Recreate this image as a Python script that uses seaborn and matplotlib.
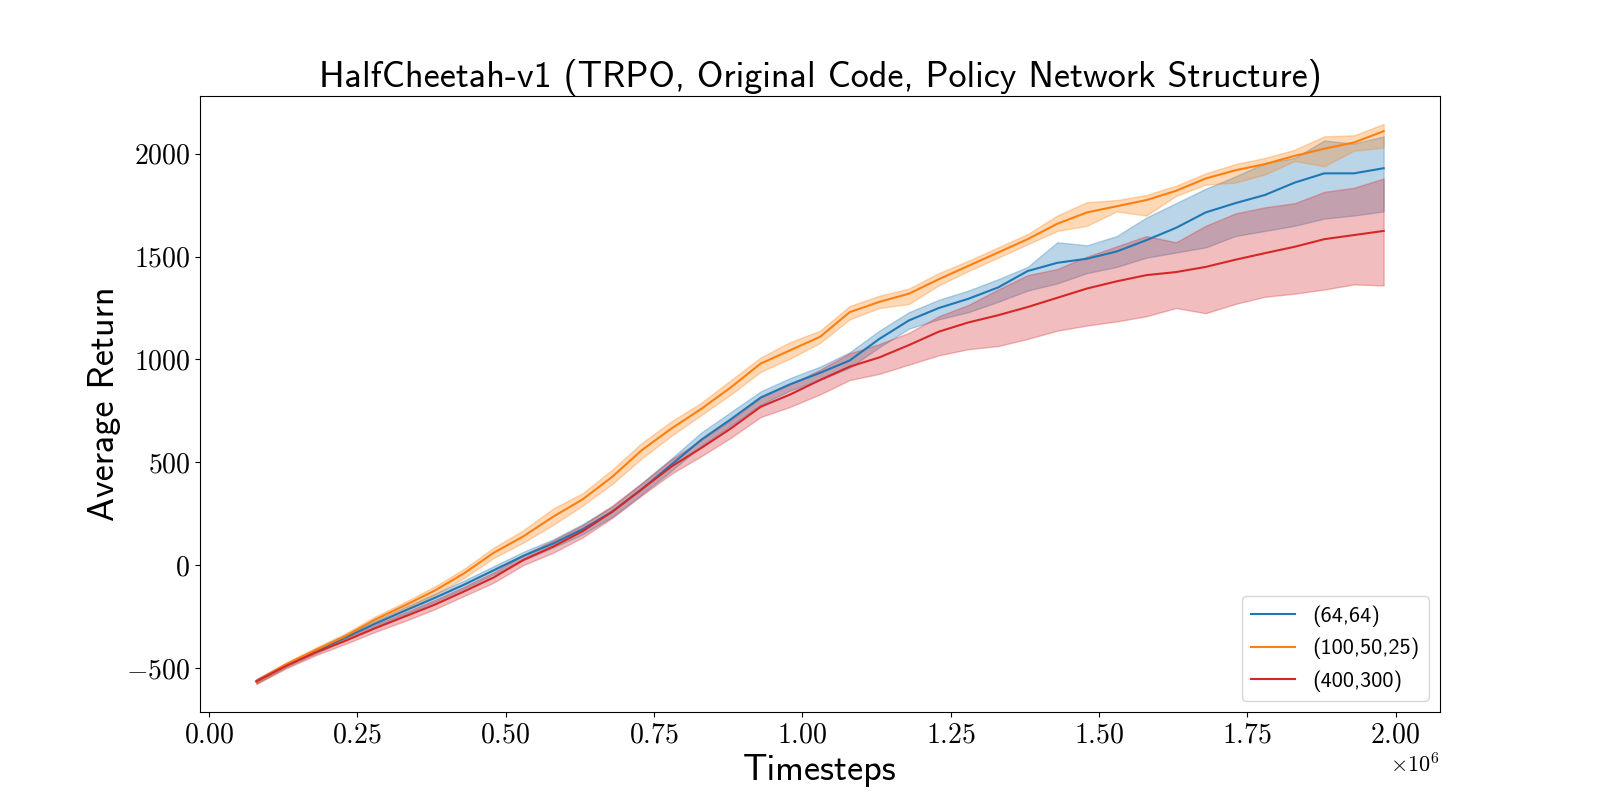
import numpy as np
import pandas as pd
import matplotlib
matplotlib.use("Agg")
import matplotlib.pyplot as plt
import seaborn as sns

# timesteps (x 1e6)
steps = [0.08, 0.13, 0.18, 0.23, 0.28, 0.33, 0.38, 0.43, 0.48, 0.53,
         0.58, 0.63, 0.68, 0.73, 0.78, 0.83, 0.88, 0.93, 0.98, 1.03,
         1.08, 1.13, 1.18, 1.23, 1.28, 1.33, 1.38, 1.43, 1.48, 1.53,
         1.58, 1.63, 1.68, 1.73, 1.78, 1.83, 1.88, 1.93, 1.98]

labels = ['(64,64)', '(100,50,25)', '(400,300)']
colors = ['tab:blue', 'tab:orange', 'tab:red']

# (64,64)
blue_mean = [-565, -487, -418, -352, -285, -222, -160, -95, -25, 45,
             105, 175, 260, 370, 490, 610, 710, 815, 880, 935,
             995, 1100, 1190, 1250, 1295, 1350, 1430, 1470, 1490, 1525,
             1580, 1640, 1715, 1760, 1800, 1860, 1905, 1905, 1930]
blue_low = [-575, -497, -430, -365, -300, -240, -180, -115, -45, 25,
            85, 150, 235, 345, 460, 580, 680, 780, 850, 900,
            960, 1060, 1150, 1195, 1230, 1280, 1335, 1370, 1420, 1450,
            1495, 1520, 1545, 1600, 1625, 1650, 1685, 1700, 1720]
blue_high = [-555, -477, -406, -339, -270, -204, -140, -75, -5, 65,
             125, 200, 285, 400, 520, 645, 745, 845, 910, 965,
             1035, 1140, 1230, 1290, 1335, 1390, 1450, 1570, 1555, 1600,
             1690, 1760, 1830, 1890, 1955, 1980, 2065, 2050, 2085]

# (100,50,25)
orange_mean = [-565, -483, -413, -345, -265, -196, -125, -40, 60, 140,
               235, 320, 430, 560, 665, 760, 865, 980, 1045, 1110,
               1230, 1280, 1320, 1390, 1455, 1520, 1585, 1660, 1715, 1745,
               1775, 1820, 1880, 1920, 1950, 1990, 2025, 2055, 2110]
orange_low = [-575, -493, -425, -358, -280, -212, -145, -62, 35, 110,
              195, 290, 395, 520, 630, 730, 830, 940, 1005, 1080,
              1195, 1250, 1270, 1360, 1430, 1495, 1560, 1625, 1650, 1720,
              1700, 1795, 1850, 1860, 1900, 1965, 1940, 2015, 2030]
orange_high = [-555, -473, -401, -332, -250, -180, -105, -18, 85, 170,
               275, 350, 465, 595, 700, 790, 900, 1010, 1085, 1140,
               1260, 1310, 1345, 1420, 1480, 1545, 1610, 1700, 1765, 1775,
               1800, 1845, 1905, 1950, 1980, 2020, 2085, 2090, 2145]

# (400,300)
red_mean = [-565, -490, -424, -368, -307, -250, -193, -128, -60, 25,
            90, 165, 260, 370, 480, 570, 665, 770, 830, 900,
            965, 1010, 1070, 1135, 1180, 1215, 1255, 1300, 1345, 1380,
            1410, 1425, 1450, 1485, 1517, 1548, 1585, 1605, 1625]
red_low = [-578, -502, -438, -383, -325, -272, -215, -150, -85, 0,
           60, 135, 230, 340, 445, 530, 620, 720, 770, 830,
           900, 930, 975, 1020, 1050, 1065, 1100, 1140, 1165, 1185,
           1210, 1250, 1225, 1270, 1305, 1320, 1340, 1365, 1360]
red_high = [-555, -478, -410, -353, -290, -230, -170, -105, -35, 50,
            120, 195, 290, 400, 515, 610, 705, 815, 880, 950,
            1030, 1075, 1130, 1210, 1265, 1340, 1410, 1440, 1500, 1550,
            1600, 1570, 1650, 1710, 1740, 1760, 1815, 1835, 1880]

means = [blue_mean, orange_mean, red_mean]
lows = [blue_low, orange_low, red_low]
highs = [blue_high, orange_high, red_high]

x = np.array(steps) * 1e6
df = pd.concat([pd.DataFrame({'Timesteps': x, 'Average Return': m, 'net': lab})
                for m, lab in zip(means, labels)], ignore_index=True)

plt.rcParams['axes.formatter.use_mathtext'] = True
plt.rcParams['mathtext.fontset'] = 'cm'

fig, ax = plt.subplots(figsize=(16, 8), dpi=100)

for lo, hi, c in zip(lows, highs, colors):
    ax.fill_between(x, lo, hi, color=c, alpha=0.3)

sns.lineplot(data=df, x='Timesteps', y='Average Return', hue='net',
             hue_order=labels, palette=colors, linewidth=1.5, ax=ax)

sns.move_legend(ax, 'lower right', title=None, fontsize=16)
for t in ax.get_legend().get_texts():
    t.set_family('cmss10')

ax.set_title('HalfCheetah-v1 (TRPO, Original Code, Policy Network Structure)',
             fontsize=26, family='cmss10')
ax.set_xlabel('Timesteps', fontsize=26, family='cmss10')
ax.set_ylabel('Average Return', fontsize=26, family='cmss10')

ax.tick_params(labelsize=20)
for lbl in ax.get_xticklabels() + ax.get_yticklabels():
    lbl.set_family('cmr10')
ax.xaxis.get_offset_text().set_fontsize(16)
ax.xaxis.get_offset_text().set_family('cmr10')

fig.savefig('out.png', dpi=100)
